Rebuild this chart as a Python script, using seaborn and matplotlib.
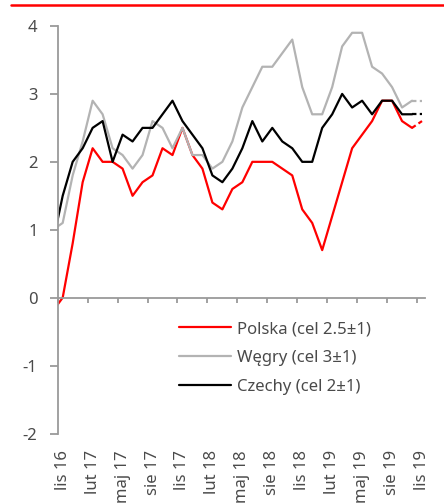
import matplotlib
matplotlib.use("Agg")
import matplotlib.pyplot as plt
from matplotlib.lines import Line2D
import seaborn as sns
import pandas as pd
import numpy as np

# Monthly CPI y/y, Oct 2016 .. Nov 2019 (Oct 2016 lies just left of the axis, clipped)
months_idx = list(range(-1, 37))
polska = [-0.2, 0.0, 0.8, 1.7, 2.2, 2.0, 2.0, 1.9, 1.5, 1.7, 1.8, 2.2, 2.1, 2.5, 2.1,
          1.9, 1.4, 1.3, 1.6, 1.7, 2.0, 2.0, 2.0, 1.9, 1.8, 1.3, 1.1,
          0.7, 1.2, 1.7, 2.2, 2.4, 2.6, 2.9, 2.9, 2.6, 2.5, 2.6]
wegry = [1.0, 1.1, 1.8, 2.3, 2.9, 2.7, 2.2, 2.1, 1.9, 2.1, 2.6, 2.5, 2.2, 2.5, 2.1,
         2.1, 1.9, 2.0, 2.3, 2.8, 3.1, 3.4, 3.4, 3.6, 3.8, 3.1, 2.7,
         2.7, 3.1, 3.7, 3.9, 3.9, 3.4, 3.3, 3.1, 2.8, 2.9, 2.9]
czechy = [0.8, 1.5, 2.0, 2.2, 2.5, 2.6, 2.0, 2.4, 2.3, 2.5, 2.5, 2.7, 2.9, 2.6, 2.4,
          2.2, 1.8, 1.7, 1.9, 2.2, 2.6, 2.3, 2.5, 2.3, 2.2, 2.0, 2.0,
          2.5, 2.7, 3.0, 2.8, 2.9, 2.7, 2.9, 2.9, 2.7, 2.7, 2.7]
series_names = ["Polska (cel 2.5±1)", "Węgry (cel 3±1)", "Czechy (cel 2±1)"]
series_colors = ["#ff0000", "#b3b3b3", "#000000"]
tick_labels = ["lis 16", "lut 17", "maj 17", "sie 17", "lis 17", "lut 18", "maj 18",
               "sie 18", "lis 18", "lut 19", "maj 19", "sie 19", "lis 19"]
y_ticks = [-2, -1, 0, 1, 2, 3, 4]

rows = []
for name, vals in zip(series_names, [polska, wegry, czechy]):
    for m, v in zip(months_idx, vals):
        rows.append({"m": m, "v": v, "kraj": name})
df = pd.DataFrame(rows)

sns.set_style("white")
plt.rcParams["font.family"] = ["Noto Sans", "DejaVu Sans"]
text_color = "#4a4a4a"
axis_color = "#9a9a9a"
fs = 12

fig = plt.figure(figsize=(4.44, 5.04), dpi=100)
ax = fig.add_axes([57.7 / 444, 1 - 433.5 / 504, (425 - 57.7) / 444, (433.5 - 26) / 504])

last = months_idx[-1]
solid = df[df["m"] <= last - 1]
dashed = df[df["m"] >= last - 1]
palette = dict(zip(series_names, series_colors))
sns.lineplot(data=solid, x="m", y="v", hue="kraj", hue_order=series_names,
             palette=palette, lw=1.6, ax=ax, legend=False)
sns.lineplot(data=dashed, x="m", y="v", hue="kraj", hue_order=series_names,
             palette=palette, lw=1.6, ax=ax, legend=False, dashes=False)
for line in ax.get_lines()[3:]:
    line.set_dashes((2, 1.5))

ax.set_xlim(-0.43, 36.3)
ax.set_ylim(-2, 4)
ax.set_xlabel("")
ax.set_ylabel("")

for s in ["top", "right"]:
    ax.spines[s].set_visible(False)
ax.spines["left"].set_color(axis_color)
ax.spines["left"].set_linewidth(1.3)
ax.spines["bottom"].set_color(axis_color)
ax.spines["bottom"].set_linewidth(1.3)
ax.spines["bottom"].set_position(("data", 0))

ax.set_yticks(y_ticks)
ax.set_yticklabels([str(t) for t in y_ticks])
ax.tick_params(axis="y", direction="out", length=5.5, width=1.3, color=axis_color,
               labelcolor=text_color, labelsize=fs, pad=9, left=True)

tick_pos = list(range(0, 37, 3))
ax.set_xticks([p - 0.5 for p in tick_pos])
ax.set_xticklabels([])
ax.tick_params(axis="x", direction="out", length=3.5, width=1.3, color=axis_color, bottom=True)

sec = ax.secondary_xaxis("bottom")
sec.set_xticks(tick_pos)
sec.set_xticklabels(tick_labels)
sec.spines["bottom"].set_visible(False)
sec.tick_params(axis="x", length=0, pad=12, labelsize=fs, labelcolor=text_color,
                labelrotation=90)

handles = [Line2D([0], [0], color=c, lw=1.6) for c in series_colors]
leg = ax.legend(handles, series_names, loc="upper left",
                bbox_to_anchor=((179 - 57.7) / 367.3, (433.5 - 321) / 407.5),
                frameon=False, fontsize=fs, handlelength=3.1, handletextpad=0.4,
                labelspacing=0.78, borderpad=0, borderaxespad=0)
for t in leg.get_texts():
    t.set_color(text_color)

fig.add_artist(Line2D([11 / 444, 1.0], [1 - 5.2 / 504, 1 - 5.2 / 504],
                      color="#ff0000", lw=1.8, transform=fig.transFigure))

fig.savefig("out.png", dpi=100)
